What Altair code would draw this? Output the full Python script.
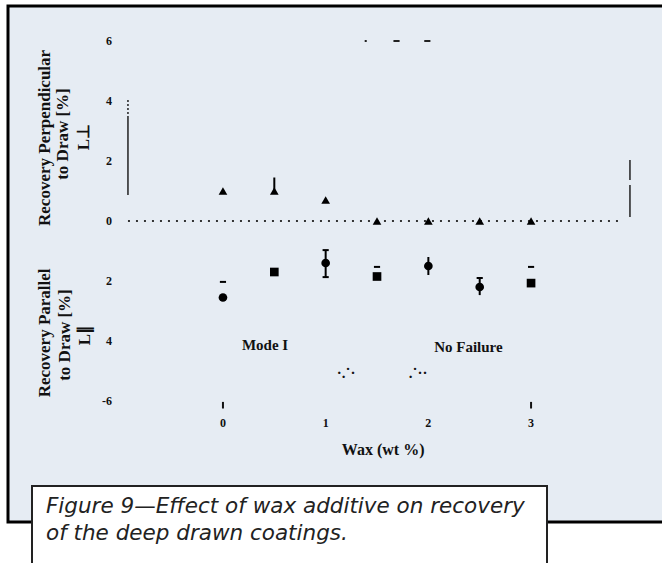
import altair as alt
import pandas as pd

# ---- data ----
wax = [0, 0.5, 1, 1.5, 2, 2.5, 3]

# Recovery perpendicular to draw (triangles)
perp_y = [1.0, 1.0, 0.7, 0.0, 0.0, 0.0, 0.0]
perp_err_top = [1.0, 1.45, 0.7, 0.0, 0.0, 0.0, 0.0]

# Recovery parallel to draw
par_y = [-2.55, -1.7, -1.4, -1.85, -1.5, -2.2, -2.07]
par_shape = ["circle", "square", "circle", "square", "circle", "circle", "square"]
par_err_lo = [-2.55, -1.7, -1.87, -1.85, -1.8, -2.47, -2.07]
par_err_hi = [-2.55, -1.7, -0.97, -1.85, -1.2, -1.9, -2.07]
cap_x = [0, 1, 1, 1.5, 2.5, 3]
cap_y = [-2.03, -0.97, -1.87, -1.53, -1.9, -1.53]

# stray marks at top of plot
top_x = [1.39, 1.69, 1.99]
top_y = [6.0, 6.0, 6.0]
top_w = [0.01, 0.03, 0.03]

# tick values and labels
y_ticks = [6, 4, 2, 0, -2, -4, -6]
y_labels = ["6", "4", "2", "0", "2", "4", "-6"]
x_ticks = [0, 1, 2, 3]
x_labels = ["0", "1", "2", "3"]
x_tickmarks = [0, 3]

# annotations (data coordinates)
ann_text = ["Mode I", "No Failure", "\u00b7.\u02d9\u00b7", ".\u02d9\u00b7\u00b7"]
ann_x = [0.41, 2.39, 1.2, 1.9]
ann_y = [-4.13, -4.2, -5.07, -5.07]

xtitle = "Wax (wt %)"
ytitle_text = ["Recovery Perpendicular", "to Draw [%]", "L\u22a5",
               "Recovery Parallel", "to Draw [%]", "L\u2225"]
ytitle_x = [-1.733, -1.558, -1.353, -1.733, -1.538, -1.344]
ytitle_y = [2.77, 2.9, 2.8, -3.73, -3.8, -3.8]

caption = ["Figure 9\u2014Effect of wax additive on recovery",
           "of the deep drawn coatings."]

# ---- scales ----
xs = alt.Scale(domain=[-2.171, 4.275], nice=False, zero=False)
ys = alt.Scale(domain=[-11.4, 7.367], nice=False, zero=False)
SERIF = "Liberation Serif"


def X(f):
    return alt.X(f, scale=xs, axis=None)


def Y(f):
    return alt.Y(f, scale=ys, axis=None)


perp = pd.DataFrame({"x": wax, "y": perp_y, "top": perp_err_top})
par = pd.DataFrame({"x": wax, "y": par_y, "shape": par_shape,
                    "lo": par_err_lo, "hi": par_err_hi})
caps = pd.DataFrame({"x": cap_x, "y": cap_y})
caps["x1"] = caps["x"] - 0.03
caps["x2"] = caps["x"] + 0.03
tops = pd.DataFrame({"x": top_x, "y": top_y, "w": top_w})
tops["x1"] = tops["x"] - tops["w"]
tops["x2"] = tops["x"] + tops["w"]
ann = pd.DataFrame({"t": ann_text, "x": ann_x, "y": ann_y})
ytl = pd.DataFrame({"t": ytitle_text, "x": ytitle_x, "y": ytitle_y})
tickm = pd.DataFrame({"x": x_tickmarks, "y1": [-6.03] * 2, "y2": [-6.25] * 2})
ylab = pd.DataFrame({"v": y_ticks, "t": y_labels, "x": [-1.08] * len(y_ticks)})
xlab = pd.DataFrame({"v": x_ticks, "t": x_labels, "y": [-6.73] * len(x_ticks)})
xtl = pd.DataFrame({"t": [xtitle], "x": [1.56], "y": [-7.63]})

# panel background and border
panel = alt.Chart(pd.DataFrame({"a": [0]})).mark_rect(
    fill="#e6ecf3", stroke="black", strokeWidth=3
).encode(x=alt.value(8), x2=alt.value(720), y=alt.value(6), y2=alt.value(522))

# zero dotted line
zero = alt.Chart(pd.DataFrame({"x1": [-0.925], "x2": [3.85], "y": [0]})).mark_rule(
    color="#333", strokeWidth=2, strokeDash=[2, 6]
).encode(x=X("x1:Q"), x2="x2:Q", y=Y("y:Q"))

# vertical line segments
vlines = alt.Chart(pd.DataFrame({
    "x": [-0.925, -0.925, 3.963, 3.963],
    "y1": [0.87, 3.43, 0.13, 1.37],
    "y2": [3.43, 4.03, 1.2, 2.03],
    "d": ["s", "d", "s", "s"]})).mark_rule(color="#222", strokeWidth=1.5).encode(
    x=X("x:Q"), y=Y("y1:Q"), y2="y2:Q",
    strokeDash=alt.StrokeDash("d:N", scale=alt.Scale(domain=["s", "d"], range=[[1, 0], [2, 2]]), legend=None))

# tick labels
ylabels = alt.Chart(ylab).mark_text(font=SERIF, fontWeight="bold", fontSize=12, color="#111",
                                    align="right", baseline="middle").encode(
    x=X("x:Q"), y=Y("v:Q"), text="t:N")
xlabels = alt.Chart(xlab).mark_text(font=SERIF, fontWeight="bold", fontSize=12, color="#111",
                                    align="center", baseline="middle").encode(
    x=X("v:Q"), y=Y("y:Q"), text="t:N")
xticks = alt.Chart(tickm).mark_rule(color="#111", strokeWidth=2).encode(
    x=X("x:Q"), y=Y("y1:Q"), y2="y2:Q")

# perpendicular series
perp_bar = alt.Chart(perp).mark_rule(color="black", strokeWidth=2).encode(
    x=X("x:Q"), y=Y("y:Q"), y2="top:Q")
perp_pts = alt.Chart(perp).mark_point(shape="triangle-up", filled=True, color="black",
                                      size=75, opacity=1).encode(x=X("x:Q"), y=Y("y:Q"))

# parallel series
par_bar = alt.Chart(par).mark_rule(color="black", strokeWidth=2).encode(
    x=X("x:Q"), y=Y("lo:Q"), y2="hi:Q")
par_caps = alt.Chart(caps).mark_rule(color="black", strokeWidth=2).encode(
    x=X("x1:Q"), x2="x2:Q", y=Y("y:Q"))
par_pts = alt.Chart(par).mark_point(filled=True, color="black", size=75, opacity=1).encode(
    x=X("x:Q"), y=Y("y:Q"),
    shape=alt.Shape("shape:N", scale=alt.Scale(domain=["circle", "square"],
                                               range=["circle", "square"]), legend=None))

top_marks = alt.Chart(tops).mark_rule(color="#222", strokeWidth=2).encode(
    x=X("x1:Q"), x2="x2:Q", y=Y("y:Q"))

# annotations
ann_layer = alt.Chart(ann).mark_text(font=SERIF, fontWeight="bold", fontSize=15,
                                     color="#111", align="center", baseline="middle").encode(
    x=X("x:Q"), y=Y("y:Q"), text="t:N")
xtitle_layer = alt.Chart(xtl).mark_text(font=SERIF, fontWeight="bold", fontSize=16,
                                        color="#111", align="center", baseline="middle").encode(
    x=X("x:Q"), y=Y("y:Q"), text="t:N")

ytitles = alt.Chart(ytl).mark_text(font=SERIF, fontWeight="bold", fontSize=17, angle=270,
                                   color="#111", align="center", baseline="middle").encode(
    x=X("x:Q"), y=Y("y:Q"), text="t:N")

# caption box
cap_box = alt.Chart(pd.DataFrame({"a": [0]})).mark_rect(
    fill="white", stroke="#222", strokeWidth=2
).encode(x=alt.value(32), x2=alt.value(547), y=alt.value(486), y2=alt.value(600))

cap_style = dict(font="DejaVu Sans", fontStyle="italic", fontSize=21.5, color="#222",
                 align="left", baseline="middle")
cap1 = alt.Chart(pd.DataFrame({"t": [caption[0]]})).mark_text(**cap_style).encode(
    x=alt.value(46), y=alt.value(507), text="t:N")
cap2 = alt.Chart(pd.DataFrame({"t": [caption[1]]})).mark_text(**cap_style).encode(
    x=alt.value(46), y=alt.value(534), text="t:N")

chart = alt.layer(panel, zero, vlines, ylabels, xlabels, xticks, perp_bar, perp_pts,
                  par_bar, par_caps, par_pts, top_marks, ann_layer, xtitle_layer,
                  ytitles, cap_box, cap1, cap2
).properties(
    width=662, height=563, autosize=alt.AutoSizeParams(type="none"), padding=0,
    background="white"
).configure_view(stroke=None)

chart.save("out.html", embed_options={"renderer": "svg", "actions": False})
